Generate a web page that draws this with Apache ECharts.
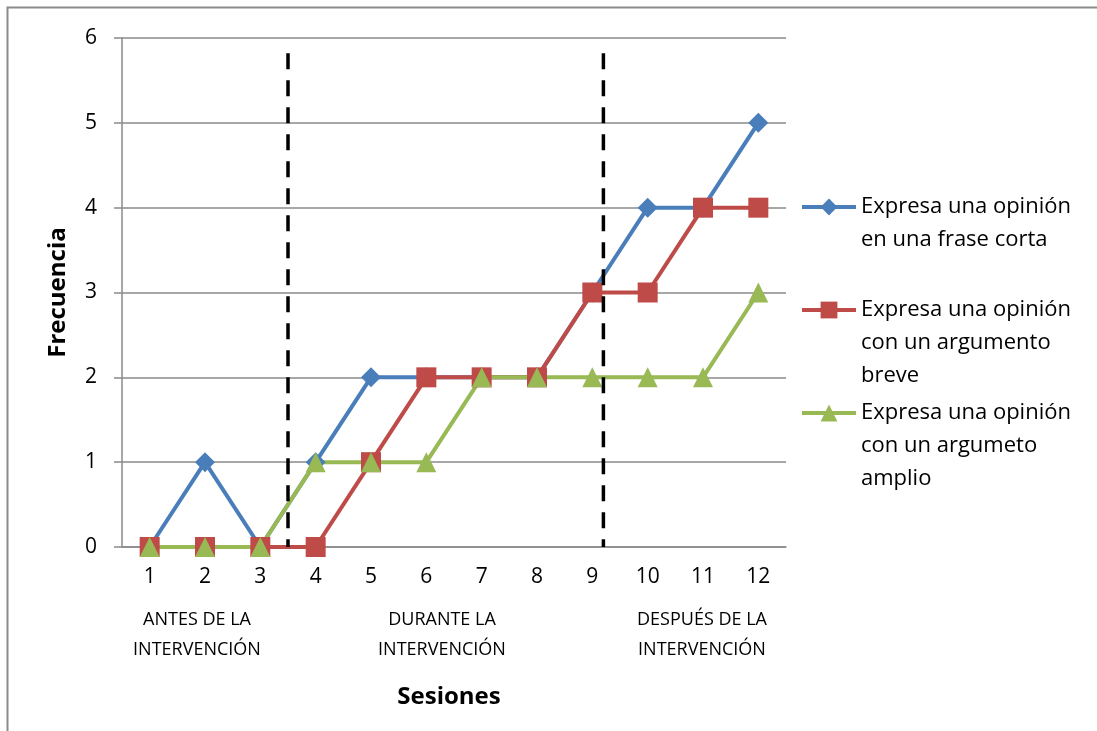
<!DOCTYPE html>
<html>
<head>
<meta charset="utf-8">
<script src="https://cdn.jsdelivr.net/npm/echarts@6/dist/echarts.min.js"></script>
<style>
  html, body { margin: 0; padding: 0; background: #ffffff; }
  #chart { width: 1097px; height: 731px; }
</style>
</head>
<body>
<div id="chart"></div>
<script>
// Sessions on the category axis
const sesiones = ['1', '2', '3', '4', '5', '6', '7', '8', '9', '10', '11', '12'];

// Series names (legend labels, wrapped like the original legend)
const nombreCorta = 'Expresa una opinión\nen una frase corta';
const nombreBreve = 'Expresa una opinión\ncon un argumento\nbreve';
const nombreAmplio = 'Expresa una opinión\ncon un argumeto\namplio';

// Frequency per session
const fraseCorta = [0, 1, 0, 1, 2, 2, 2, 2, 3, 4, 4, 5];
const argumentoBreve = [0, 0, 0, 0, 1, 2, 2, 2, 3, 3, 4, 4];
const argumentoAmplio = [0, 0, 0, 1, 1, 1, 2, 2, 2, 2, 2, 3];

// Phase dividers, in session units (session n sits at n)
const divisorAntes = 3.5;
const divisorDespues = 9.2;
const divisorTope = 5.82;

// Phase captions under the axis
const fases = ['ANTES DE LA\nINTERVENCIÓN', 'DURANTE LA\nINTERVENCIÓN', 'DESPUÉS DE LA\nINTERVENCIÓN'];

const yTicks = [0, 1, 2, 3, 4, 5, 6];

const FONT = '"Open Sans", sans-serif';
const GRAY = '#8a8a8a';
const C_BLUE = '#4a7ebb';
const C_RED = '#be4b48';
const C_GREEN = '#98b954';
const LINE_H = 33;

const chart = echarts.init(document.getElementById('chart'), null, { renderer: 'canvas' });

// One legend block per series; the icon sits beside the first text line,
// so the label is padded with blank lines above to keep that line centred.
function legendFor(name, iconY) {
  const lines = name.split('\n').length;
  const blockH = (2 * lines - 1) * LINE_H;
  return {
    data: [name],
    orient: 'vertical',
    left: 800,
    top: iconY - blockH / 2,
    padding: 0,
    itemWidth: 54,
    itemHeight: 21,
    selectedMode: false,
    lineStyle: { width: 4 },
    formatter: function (n) {
      return '\n'.repeat(n.split('\n').length - 1) + n;
    },
    textStyle: {
      fontFamily: FONT,
      fontSize: 22,
      color: '#000',
      lineHeight: LINE_H
    }
  };
}

function dataSeries(name, values, color, symbol) {
  return {
    name: name,
    type: 'line',
    data: values,
    symbol: symbol,
    symbolSize: 20,
    color: color,
    lineStyle: { color: color, width: 4 },
    itemStyle: { color: color },
    emphasis: { disabled: true },
    animation: false
  };
}

function divider(x) {
  return {
    type: 'line',
    xAxisIndex: 1,
    data: [[x, divisorTope], [x, 0]],
    symbol: 'none',
    lineStyle: { color: '#000', width: 3.5, type: [16, 11] },
    silent: true,
    animation: false,
    z: 5
  };
}

function caption(text, x) {
  return {
    type: 'text', x: x, y: 605, silent: true,
    style: {
      text: text, fontFamily: FONT, fontSize: 18, lineHeight: 30,
      fill: '#000', align: 'center', verticalAlign: 'top'
    }
  };
}

const option = {
  backgroundColor: '#ffffff',
  animation: false,
  grid: { left: 122, right: 311, top: 38, bottom: 184, containLabel: false },
  legend: [
    legendFor(nombreCorta, 207),
    legendFor(nombreBreve, 310),
    legendFor(nombreAmplio, 413)
  ],
  xAxis: [
    {
      type: 'category',
      data: sesiones,
      boundaryGap: true,
      name: 'Sesiones',
      nameLocation: 'middle',
      nameGap: 138,
      nameTextStyle: {
        fontFamily: FONT, fontSize: 24, fontWeight: 'bold', color: '#000',
        padding: [0, 10, 0, 0]
      },
      axisLine: { lineStyle: { color: GRAY, width: 1.5 } },
      axisTick: { show: false },
      axisLabel: { fontFamily: FONT, fontSize: 21, color: '#000', margin: 20 },
      splitLine: { show: false }
    },
    {
      type: 'value',
      min: 0.5,
      max: 12.5,
      show: false
    }
  ],
  yAxis: {
    type: 'value',
    min: yTicks[0],
    max: yTicks[yTicks.length - 1],
    interval: 1,
    name: 'Frecuencia',
    nameLocation: 'middle',
    nameGap: 52,
    nameRotate: 90,
    nameTextStyle: { fontFamily: FONT, fontSize: 24, fontWeight: 'bold', color: '#000' },
    axisLine: { show: true, lineStyle: { color: GRAY, width: 1.5 } },
    axisTick: { show: true, inside: false, length: 8, lineStyle: { color: GRAY, width: 1.5 } },
    axisLabel: { fontFamily: FONT, fontSize: 21, color: '#000', margin: 25 },
    splitLine: { show: true, lineStyle: { color: GRAY, width: 1.5 } }
  },
  graphic: [
    {
      type: 'rect',
      silent: true,
      z: -10,
      shape: { x: 7.5, y: 7.5, width: 1400, height: 1000 },
      style: { fill: 'none', stroke: GRAY, lineWidth: 2 }
    },
    caption(fases[0], 197),
    caption(fases[1], 442),
    caption(fases[2], 702)
  ],
  series: [
    dataSeries(nombreCorta, fraseCorta, C_BLUE, 'diamond'),
    dataSeries(nombreBreve, argumentoBreve, C_RED, 'rect'),
    dataSeries(nombreAmplio, argumentoAmplio, C_GREEN, 'triangle'),
    divider(divisorAntes),
    divider(divisorDespues)
  ]
};

chart.setOption(option);
</script>
</body>
</html>
